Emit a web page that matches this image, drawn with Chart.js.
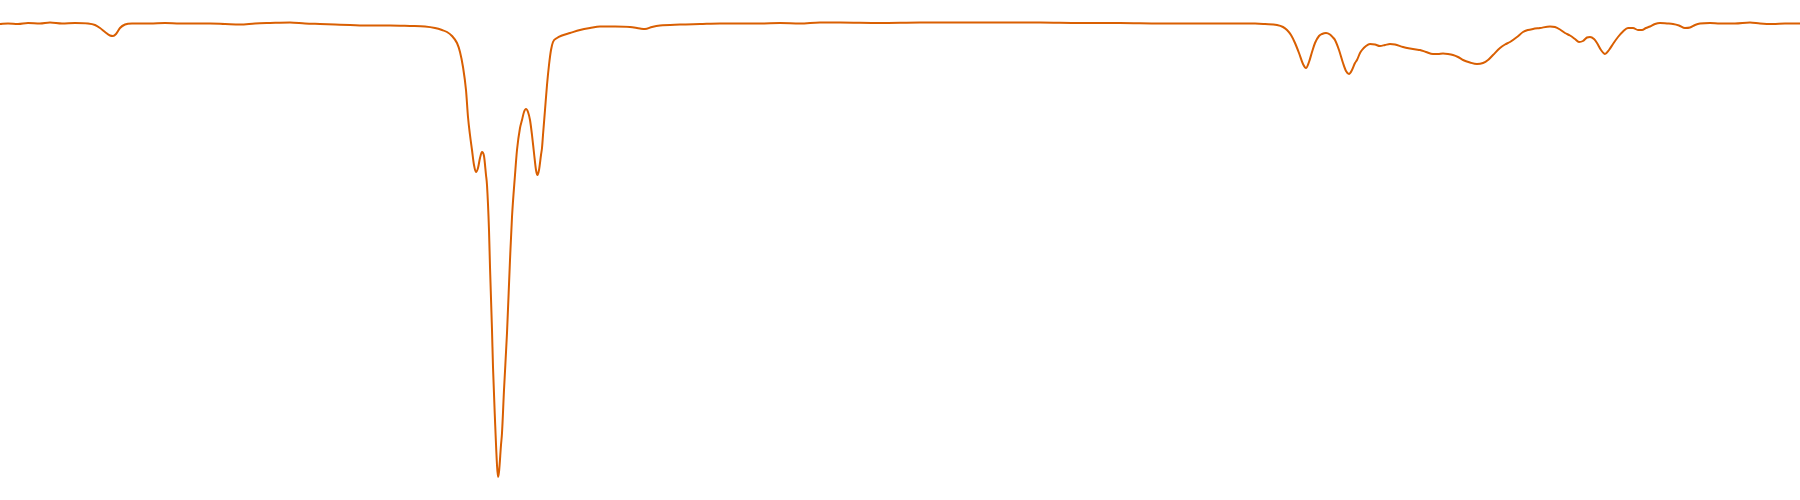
<!DOCTYPE html>
<html>
<head>
<meta charset="utf-8">
<script src="https://cdn.jsdelivr.net/npm/chart.js@4"></script>
<style>
html,body{margin:0;padding:0;background:#fff;}
#wrap{width:1800px;height:500px;position:relative;}
</style>
</head>
<body>
<div id="wrap"><canvas id="c"></canvas></div>
<script>
const positions = [0,8,18,28,40,50,62,75,88,95,100,105,110,113,116,120,125,132,140,150,165,180,195,210,225,240,255,270,290,305,320,335,350,370,390,410,425,435,442,447,452,457,460,463,466,468,470,472,474,476,478,480,482,484,486,487,489,490,492,493,495,497,498,499,501,502,504,507,510,512,515,517,520,522,524,526,528,530,532,534,536,537.5,539,541,542,543,545,547,549,551,553,557,562,570,580,590,600,615,630,640,645,652,660,680,700,720,740,760,780,800,820,840,880,920,960,1000,1040,1080,1120,1160,1200,1240,1255,1265,1277,1283,1287,1291,1295,1299,1303,1306,1309,1312,1315,1319,1322,1326,1330,1333,1335,1339,1343,1346,1349,1352,1355,1357,1360,1362,1366,1370,1375,1380,1385,1390,1395,1403,1410,1416,1420,1426,1433,1438,1443,1448,1453,1458,1463,1470,1477,1483,1488,1493,1500,1505,1510,1517,1523,1528,1533,1540,1550,1555,1560,1565,1570,1575,1579,1583,1587,1590,1594,1597,1601,1605,1609,1613,1618,1623,1628,1633,1638,1642,1646,1650,1655,1660,1667,1673,1679,1685,1690,1695,1700,1710,1720,1735,1750,1760,1773,1785,1800];
const transmittance = [95.2,95.3,95.2,95.4,95.3,95.5,95.3,95.4,95.3,95.0,94.4,93.6,92.9,92.8,93.2,94.4,95.1,95.3,95.3,95.3,95.4,95.3,95.3,95.3,95.2,95.1,95.3,95.4,95.5,95.3,95.2,95.1,95.0,94.9,94.9,94.8,94.7,94.4,94.0,93.6,92.8,91.4,89.6,86.6,82.0,76.6,73.0,70.0,67.0,65.6,66.4,68.4,69.6,68.8,65.0,63.0,54.0,46.6,34.0,26.6,16.0,7.0,4.6,5.6,11.0,13.4,22.0,33.4,48.0,56.6,65.0,70.0,74.4,76.0,77.6,78.2,77.6,76.0,73.0,69.4,66.0,65.0,66.0,69.0,70.4,73.0,78.0,83.0,87.0,90.0,91.6,92.4,92.9,93.4,94.0,94.4,94.7,94.7,94.6,94.3,94.2,94.6,94.9,95.1,95.2,95.3,95.3,95.3,95.4,95.3,95.5,95.5,95.4,95.5,95.5,95.5,95.5,95.4,95.4,95.3,95.3,95.3,95.3,95.2,95.0,94.6,94.0,93.0,91.4,89.4,87.2,86.4,87.6,89.6,91.4,92.8,93.2,93.4,93.1,92.5,92.0,90.0,87.4,85.8,85.2,86.0,87.4,88.0,89.4,90.0,90.8,91.2,91.1,90.8,91.0,91.2,91.1,90.6,90.3,90.1,90.0,89.6,89.2,89.2,89.3,89.2,89.0,88.6,88.0,87.5,87.2,87.4,88.0,89.0,90.4,91.1,91.6,92.6,93.6,94.0,94.2,94.4,94.7,94.6,94.1,93.4,92.9,92.2,91.6,91.8,92.5,92.6,92.2,91.4,90.0,89.2,90.0,91.2,92.6,93.7,94.4,94.4,94.0,94.0,94.4,94.7,95.2,95.4,95.3,95.2,94.9,94.4,94.5,95.0,95.3,95.4,95.3,95.3,95.5,95.3,95.2,95.3,95.3];

const points = positions.map((p, i) => ({x: p, y: transmittance[i]}));

new Chart(document.getElementById('c'), {
  type: 'line',
  data: {
    datasets: [{
      data: points,
      borderColor: '#d95f02',
      borderWidth: 2,
      pointRadius: 0,
      fill: false,
      cubicInterpolationMode: 'monotone'
    }]
  },
  options: {
    responsive: true,
    maintainAspectRatio: false,
    animation: false,
    layout: {padding: 0},
    plugins: {legend: {display: false}, tooltip: {enabled: false}, title: {display: false}},
    scales: {
      x: {type: 'linear', min: 0, max: 1800, display: false},
      y: {type: 'linear', min: 0, max: 100, display: false}
    }
  }
});
</script>
</body>
</html>
